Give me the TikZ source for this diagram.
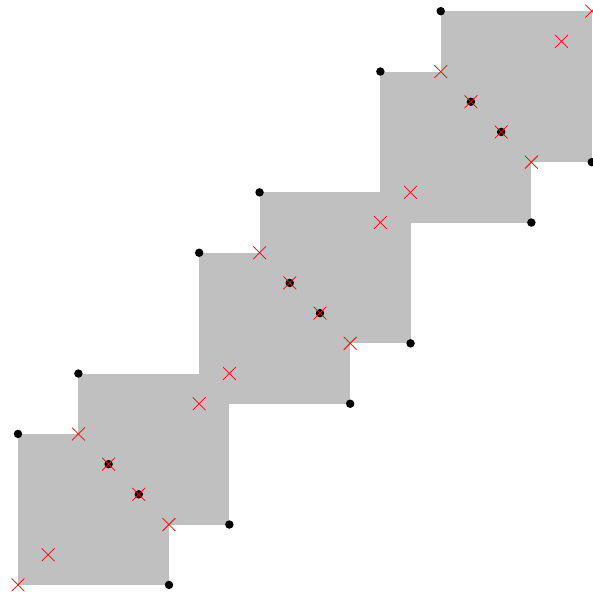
\documentclass[tikz,border=0pt]{standalone}
\usetikzlibrary{shapes.misc}
\definecolor{sq}{HTML}{C0C0C0}
\begin{document}
\begin{tikzpicture}[x=1cm,y=1cm,
  sqbox/.style={fill=sq,draw=none},
  dotmark/.style={circle,fill=black,inner sep=0pt,minimum size=0.28cm},
  xmark/.style={cross out,draw=red,line width=0.7pt,inner sep=0pt,minimum size=0.4cm}]
\useasboundingbox (-0.596,-0.40) rectangle (19.04,19.37);
% squares
\foreach \a/\b in {0/0,2/2,6/6,8/8,12/12,14/14}{
  \fill[sqbox] (\a,\b) rectangle ++(5,5);
}
% dots
\foreach \x/\y [count=\i] in {0/5,5/0,2/7,7/2,6/11,11/6,8/13,13/8,12/17,17/12,14/19,19/14,3/4,4/3,9/10,10/9,15/16,16/15}{
  \node[dotmark] (d\i) at (\x,\y) {};
}
% crosses
\foreach \x/\y [count=\i] in {0/0,1/1,2/5,5/2,6/6,7/7,8/11,11/8,12/12,13/13,14/17,17/14,18/18,19/19,3/4,4/3,9/10,10/9,15/16,16/15}{
  \node[xmark] (c\i) at (\x,\y) {};
}
\end{tikzpicture}
\end{document}
